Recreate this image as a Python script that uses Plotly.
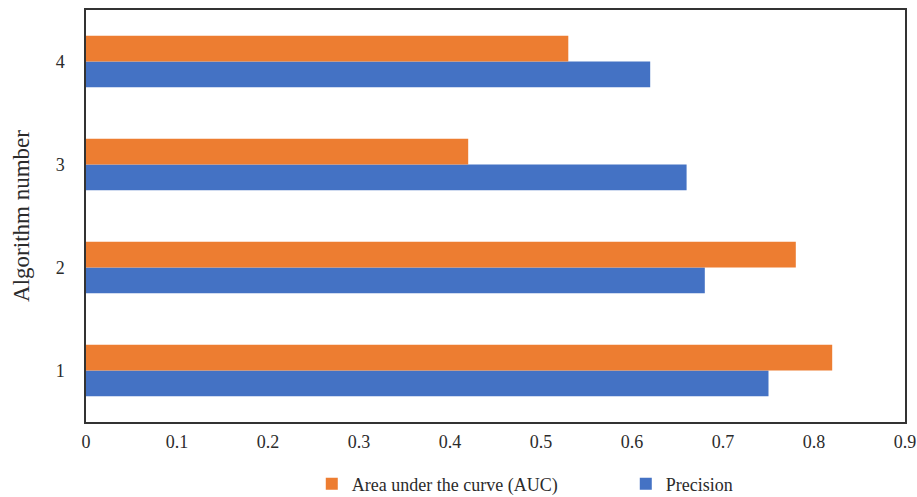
import plotly.graph_objects as go

algorithms = ["1", "2", "3", "4"]
precision = [0.75, 0.68, 0.66, 0.62]
auc = [0.82, 0.78, 0.42, 0.53]
x_ticks = [0, 0.1, 0.2, 0.3, 0.4, 0.5, 0.6, 0.7, 0.8, 0.9]
x_tick_labels = ["0", "0.1", "0.2", "0.3", "0.4", "0.5", "0.6", "0.7", "0.8", "0.9"]

FONT = "Liberation Serif, Times New Roman, serif"
TEXT = "#2b2b2b"

fig = go.Figure()
fig.add_trace(go.Bar(
    y=algorithms, x=precision, orientation="h", name="Precision",
    marker=dict(color="#4472C4", line=dict(width=0)),
))
fig.add_trace(go.Bar(
    y=algorithms, x=auc, orientation="h", name="Area under the curve (AUC)",
    marker=dict(color="#ED7D31", line=dict(width=0)),
))

fig.update_layout(
    width=917, height=497,
    margin=dict(l=86, r=12, t=10, b=75, autoexpand=False),
    paper_bgcolor="white", plot_bgcolor="white",
    barmode="group", bargap=0.5, bargroupgap=0,
    font=dict(family=FONT, size=18, color=TEXT),
    showlegend=True,
    legend=dict(
        orientation="h", traceorder="reversed",
        x=0.340, xanchor="left", xref="container",
        y=0.026, yanchor="middle", yref="container",
        font=dict(family=FONT, size=18, color=TEXT),
        itemwidth=30, entrywidth=269,
    ),
    xaxis=dict(
        range=[0, 0.9], tickvals=x_ticks, ticktext=x_tick_labels,
        showgrid=False, zeroline=False,
        showline=True, linecolor="#333333", linewidth=1.5, mirror=True,
        ticks="outside", ticklen=3, tickcolor="rgba(0,0,0,0)",
        tickfont=dict(family=FONT, size=18, color=TEXT),
    ),
    yaxis=dict(
        type="category", categoryorder="array", categoryarray=algorithms,
        range=[-0.5, 3.5],
        showgrid=False, zeroline=False,
        showline=True, linecolor="#333333", linewidth=1.5, mirror=True,
        ticks="outside", ticklen=16, tickcolor="rgba(0,0,0,0)",
        tickfont=dict(family=FONT, size=18, color=TEXT),
        title=dict(text="Algorithm number", font=dict(family=FONT, size=23, color=TEXT), standoff=20),
    ),
)

fig.write_html("out.html")
